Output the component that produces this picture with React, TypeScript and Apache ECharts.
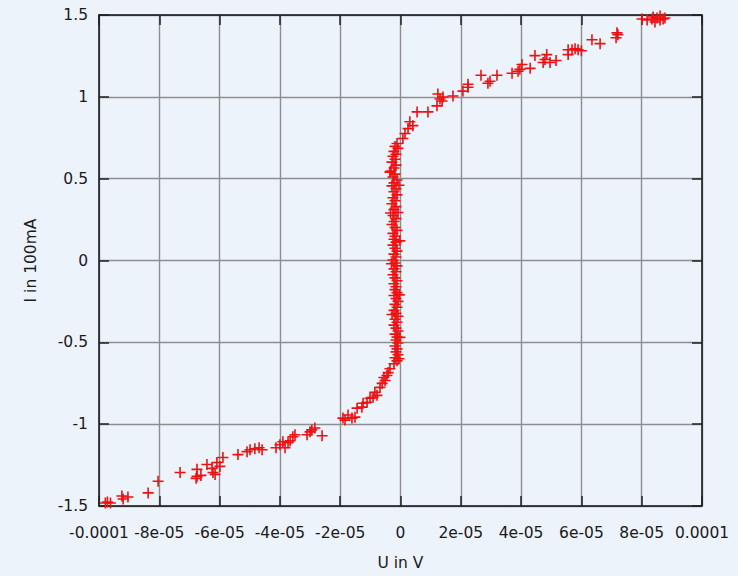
import React, { useEffect, useRef } from "react";
import * as echarts from "echarts";

// Measured points [U in V, I in 100mA]
const lowerTail: number[][] = [
  [-9.79e-5, -1.482], [-9.72e-5, -1.476], [-9.62e-5, -1.482], [-9.24e-5, -1.439], [-9.2e-5, -1.457],
  [-9.04e-5, -1.445], [-8.37e-5, -1.42], [-8.04e-5, -1.349], [-7.31e-5, -1.295], [-6.75e-5, -1.276],
  [-6.75e-5, -1.319], [-6.62e-5, -1.313], [-6.78e-5, -1.331], [-6.42e-5, -1.246], [-6.25e-5, -1.27],
  [-6.22e-5, -1.295], [-6.15e-5, -1.307], [-6.09e-5, -1.234], [-5.99e-5, -1.258], [-5.89e-5, -1.204],
  [-5.39e-5, -1.186], [-5.09e-5, -1.168], [-4.99e-5, -1.156], [-4.83e-5, -1.15], [-4.69e-5, -1.144],
  [-4.59e-5, -1.156], [-4.13e-5, -1.144], [-4.0e-5, -1.126], [-3.9e-5, -1.107], [-3.83e-5, -1.144],
  [-3.73e-5, -1.113], [-3.66e-5, -1.101], [-3.57e-5, -1.077], [-3.5e-5, -1.065], [-3.1e-5, -1.065],
  [-3.0e-5, -1.047], [-2.94e-5, -1.035], [-2.84e-5, -1.023], [-2.6e-5, -1.071],
];

const lowerKnee: number[][] = [
  [-1.91e-5, -0.963], [-1.74e-5, -0.944], [-1.61e-5, -0.963], [-1.51e-5, -0.957], [-1.44e-5, -0.902],
  [-1.28e-5, -0.896], [-1.24e-5, -0.872], [-1.11e-5, -0.866], [-1.01e-5, -0.842], [-0.91e-5, -0.836],
  [-0.78e-5, -0.824], [-0.85e-5, -0.806], [-0.68e-5, -0.775], [-0.61e-5, -0.751], [-0.51e-5, -0.733],
  [-0.45e-5, -0.703], [-0.41e-5, -0.685], [-0.35e-5, -0.661], [-1.84e-5, -0.975], [-0.55e-5, -0.715],
];

const column: number[][] = [
  [-0.116e-5, 0.715], [-0.182e-5, 0.697], [-0.083e-5, 0.685], [-0.216e-5, 0.667], [-0.149e-5, 0.649],
  [-0.249e-5, 0.637], [-0.182e-5, 0.619], [-0.282e-5, 0.601], [-0.149e-5, 0.583], [-0.216e-5, 0.565],
  [-0.315e-5, 0.547], [-0.182e-5, 0.528], [-0.249e-5, 0.51], [-0.116e-5, 0.492], [-0.216e-5, 0.474],
  [-0.282e-5, 0.456], [-0.149e-5, 0.438], [-0.216e-5, 0.42], [-0.116e-5, 0.401], [-0.249e-5, 0.383],
  [-0.182e-5, 0.365], [-0.282e-5, 0.347], [-0.149e-5, 0.329], [-0.216e-5, 0.311], [-0.083e-5, 0.293],
  [-0.249e-5, 0.275], [-0.149e-5, 0.256], [-0.216e-5, 0.238], [-0.282e-5, 0.22], [-0.182e-5, 0.202],
  [-0.116e-5, 0.184], [-0.249e-5, 0.166], [-0.182e-5, 0.148], [-0.216e-5, 0.13], [-0.149e-5, 0.112],
  [-0.249e-5, 0.094], [-0.182e-5, 0.075], [-0.116e-5, 0.057], [-0.216e-5, 0.039], [-0.149e-5, 0.021],
  [-0.249e-5, 0.003], [-0.182e-5, -0.015], [-0.116e-5, -0.033], [-0.216e-5, -0.051], [-0.149e-5, -0.069],
  [-0.249e-5, -0.087], [-0.182e-5, -0.106], [-0.116e-5, -0.124], [-0.216e-5, -0.142], [-0.149e-5, -0.16],
  [-0.182e-5, -0.178], [-0.116e-5, -0.196], [-0.216e-5, -0.214], [-0.149e-5, -0.232], [-0.083e-5, -0.25],
  [-0.182e-5, -0.268], [-0.116e-5, -0.286], [-0.216e-5, -0.305], [-0.149e-5, -0.323], [-0.083e-5, -0.341],
  [-0.182e-5, -0.359], [-0.116e-5, -0.377], [-0.216e-5, -0.395], [-0.149e-5, -0.413], [-0.083e-5, -0.431],
  [-0.182e-5, -0.45], [-0.116e-5, -0.468], [-0.149e-5, -0.486], [-0.083e-5, -0.504], [-0.182e-5, -0.522],
  [-0.116e-5, -0.54], [-0.149e-5, -0.558], [-0.083e-5, -0.576], [-0.182e-5, -0.594], [-0.116e-5, -0.613],
  [-0.216e-5, -0.631], [-0.35e-5, 0.54], [-0.05e-5, 0.46], [-0.33e-5, 0.29], [-0.02e-5, 0.12],
  [-0.3e-5, -0.02], [-0.04e-5, -0.21], [-0.28e-5, -0.33], [-0.02e-5, -0.47], [-0.05e-5, -0.6],
];

const upperKnee: number[][] = [
  [0.08e-5, 0.745], [0.15e-5, 0.776], [0.25e-5, 0.806], [0.31e-5, 0.848], [0.41e-5, 0.824],
  [0.55e-5, 0.908], [0.91e-5, 0.908], [1.21e-5, 0.945], [1.38e-5, 0.975], [1.24e-5, 1.017],
  [1.41e-5, 0.999], [1.31e-5, 0.987], [1.74e-5, 1.005], [2.07e-5, 1.035], [2.24e-5, 1.059],
  [2.24e-5, 1.077],
];

const upperTail: number[][] = [
  [2.67e-5, 1.132], [2.9e-5, 1.083], [2.97e-5, 1.095], [3.2e-5, 1.132], [3.7e-5, 1.144],
  [3.9e-5, 1.156], [4.03e-5, 1.198], [3.96e-5, 1.168], [4.3e-5, 1.174], [4.46e-5, 1.252],
  [4.73e-5, 1.21], [4.85e-5, 1.258], [4.79e-5, 1.228], [4.96e-5, 1.21], [5.16e-5, 1.222],
  [5.56e-5, 1.258], [5.56e-5, 1.288], [5.69e-5, 1.288], [5.79e-5, 1.294], [5.89e-5, 1.288],
  [6.0e-5, 1.282], [6.35e-5, 1.349], [6.62e-5, 1.325], [7.15e-5, 1.361], [7.21e-5, 1.379],
  [7.18e-5, 1.391], [8.01e-5, 1.476], [8.18e-5, 1.47], [8.34e-5, 1.476], [8.44e-5, 1.457],
  [8.51e-5, 1.482], [8.61e-5, 1.47], [8.71e-5, 1.476], [8.77e-5, 1.482], [8.38e-5, 1.488],
  [8.61e-5, 1.494],
];

const xTickLabels = ["-0.0001", "-8e-05", "-6e-05", "-4e-05", "-2e-05", "0", "2e-05", "4e-05", "6e-05", "8e-05", "0.0001"];
const yTickLabels = ["-1.5", "-1", "-0.5", "0", "0.5", "1", "1.5"];

const xMin = -1e-4, xMax = 1e-4, xStep = 2e-5;
const yMin = -1.5, yMax = 1.5, yStep = 0.5;

const FONT = "DejaVu Sans";
const TEXT = "#1a1a1a";

export default function App() {
  const ref = useRef<HTMLDivElement>(null);
  useEffect(() => {
    if (!ref.current) return;
    const chart = echarts.init(ref.current, undefined, { renderer: "svg" });
    const allPoints = [...lowerTail, ...lowerKnee, ...column, ...upperKnee, ...upperTail];
    const tickStyle = { show: true, inside: true, length: 10, lineStyle: { color: "#222", width: 1.5 } };
    const axisLine = { show: true, onZero: false, lineStyle: { color: "#111", width: 1.5 } };
    const split = { show: true, lineStyle: { color: "#8e8e8e", width: 1.4 } };
    chart.setOption({
      animation: false,
      backgroundColor: "#edf3fb",
      grid: { left: 99, right: 36, top: 15, bottom: 64, containLabel: false },
      xAxis: [
        {
          type: "value", position: "bottom", min: xMin, max: xMax, interval: xStep,
          axisLine, axisTick: tickStyle, splitLine: split,
          axisLabel: {
            margin: 19, fontFamily: FONT, fontSize: 15.5, color: TEXT,
            formatter: (v: number) => xTickLabels[Math.round((v - xMin) / xStep)] ?? "",
          },
          name: "U in V", nameLocation: "middle", nameGap: 49,
          nameTextStyle: { fontFamily: FONT, fontSize: 15.5, color: TEXT },
        },
        {
          type: "value", position: "top", min: xMin, max: xMax, interval: xStep,
          axisLine, axisTick: tickStyle, splitLine: { show: false }, axisLabel: { show: false },
        },
      ],
      yAxis: [
        {
          type: "value", position: "left", min: yMin, max: yMax, interval: yStep,
          axisLine, axisTick: tickStyle, splitLine: split,
          axisLabel: {
            margin: 11, fontFamily: FONT, fontSize: 15.5, color: TEXT,
            formatter: (v: number) => yTickLabels[Math.round((v - yMin) / yStep)] ?? "",
          },
          name: "I in 100mA", nameLocation: "middle", nameGap: 60,
          nameTextStyle: { fontFamily: FONT, fontSize: 15.5, color: TEXT },
        },
        {
          type: "value", position: "right", min: yMin, max: yMax, interval: yStep,
          axisLine, axisTick: tickStyle, splitLine: { show: false }, axisLabel: { show: false },
        },
      ],
      series: [
        {
          type: "scatter",
          xAxisIndex: 0, yAxisIndex: 0,
          data: allPoints,
          symbol: "path://M0,5L10,5M5,0L5,10",
          symbolSize: 11,
          itemStyle: { color: "transparent", borderColor: "#ee1111", borderWidth: 1.6, opacity: 1 },
          emphasis: { disabled: true },
          z: 5,
        },
      ],
    });
    return () => chart.dispose();
  }, []);
  return (
    <div
      ref={ref}
      style={{ position: "fixed", left: 0, top: 0, width: 738, height: 576, background: "#edf3fb" }}
    />
  );
}
